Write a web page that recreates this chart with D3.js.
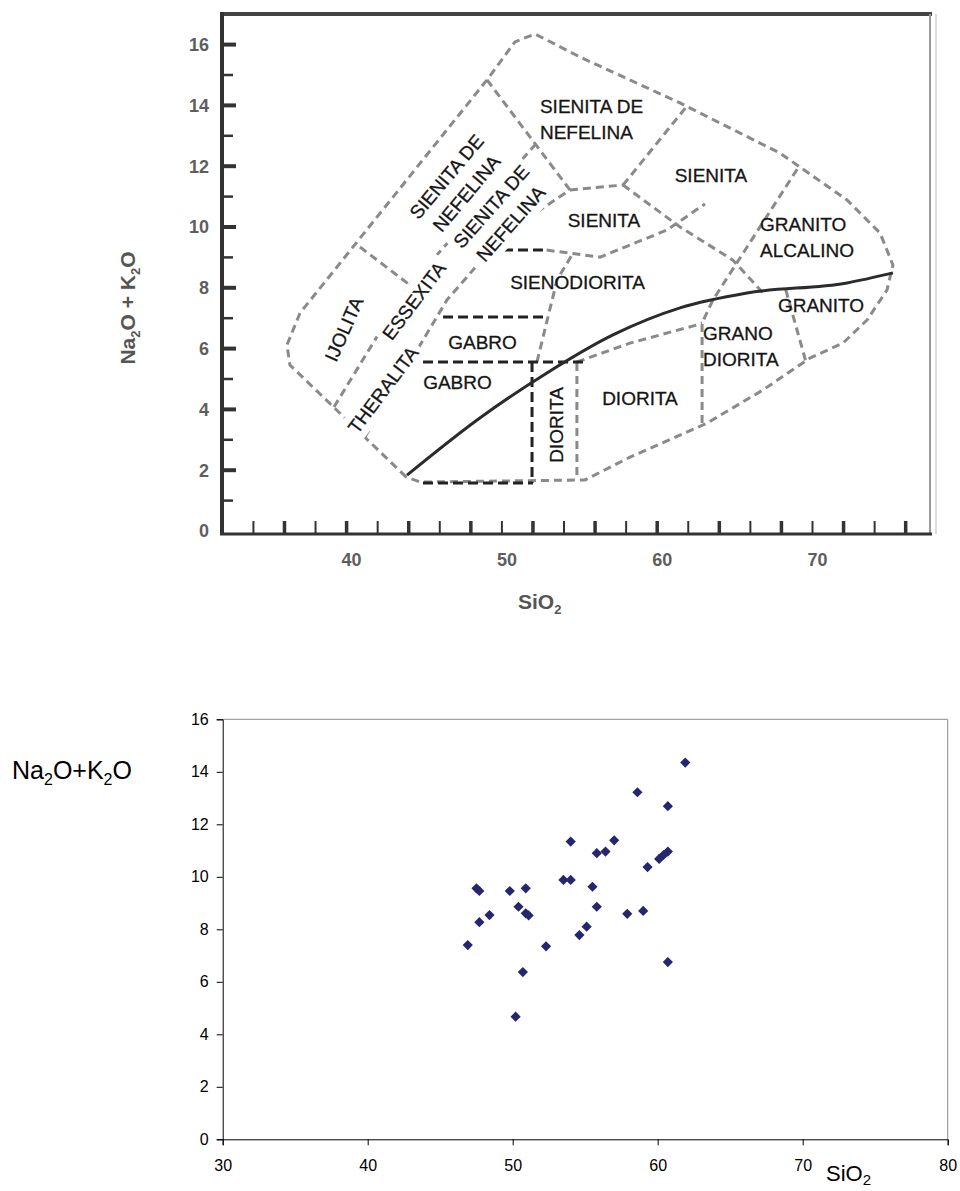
<!DOCTYPE html>
<html>
<head>
<meta charset="utf-8">
<script src="https://cdn.jsdelivr.net/npm/d3@7"></script>
<style>
  body { margin: 0; background: #fff; }
  svg { display: block; }
  text { font-family: "Liberation Sans", Arial, sans-serif; }
</style>
</head>
<body>
<div id="chart"></div>
<script>
const width = 960,
      height = 1191;

// ---- scatter data (SiO2 vs Na2O+K2O) ----
const sio2 = [61.9, 58.6, 60.7, 54.0, 57.0, 55.8, 56.4, 60.1, 60.4, 60.7, 59.3,
              53.5, 54.0, 47.5, 47.7, 49.8, 50.9, 55.5, 50.4, 50.9, 51.1, 48.4,
              47.7, 55.8, 57.9, 59.0, 55.1, 54.6, 46.9, 52.3, 50.7, 60.7, 50.2];
const alkali = [14.35, 13.22, 12.69, 11.34, 11.39, 10.90, 10.96, 10.68, 10.83, 10.96, 10.37,
                9.88, 9.88, 9.56, 9.46, 9.46, 9.56, 9.62, 8.86, 8.61, 8.53, 8.54,
                8.27, 8.86, 8.59, 8.70, 8.10, 7.78, 7.40, 7.35, 6.37, 6.75, 4.67];
const xTicksBottom = [30, 40, 50, 60, 70, 80];
const yTicks = [0, 2, 4, 6, 8, 10, 12, 14, 16];

// ---- TAS diagram (top) field boundaries, [SiO2, Na2O+K2O] ----
const outerLine = [[43.83, 1.78], [36.35, 5.46], [36.16, 6.12], [37.0, 7.17], [49.04, 14.84],
                   [50.84, 16.09], [52.13, 16.35], [55.03, 15.59], [61.47, 14.08], [67.91, 12.43],
                   [72.22, 10.89], [74.35, 9.80], [75.18, 8.75], [74.80, 7.93], [73.51, 6.94],
                   [71.96, 6.18], [69.84, 5.69], [66.81, 4.64], [63.21, 3.55], [58.25, 2.43],
                   [55.35, 1.68], [44.73, 1.61]];
const alkalineCurve = [[43.89, 1.84], [48.58, 3.72], [52.90, 5.20], [57.15, 6.45], [61.47, 7.34],
                       [65.78, 7.83], [72.22, 8.16], [75.18, 8.49]];
const grayLines = [
  [[39.19, 4.08], [41.70, 6.18], [43.44, 7.60], [44.08, 8.09], [52.13, 12.70]],
  [[40.86, 9.34], [44.08, 8.09]],
  [[49.04, 14.84], [54.38, 11.22]],
  [[54.38, 11.22], [57.80, 11.38]],
  [[57.80, 11.38], [61.92, 13.98]],
  [[41.18, 3.09], [44.47, 5.89], [46.46, 7.60], [48.59, 8.85], [50.52, 9.74], [52.45, 10.56], [54.38, 11.22]],
  [[54.83, 5.53], [54.83, 1.68]],
  [[54.83, 5.56], [58.25, 6.18], [62.56, 6.78], [62.89, 6.84]],
  [[62.89, 3.55], [62.89, 6.84], [63.59, 7.60], [69.19, 12.04]],
  [[68.28, 7.93], [69.58, 5.56]],
  [[57.80, 11.38], [61.47, 10.0], [64.88, 8.91], [66.81, 7.83]],
  [[52.88, 9.24], [56.32, 9.01], [60.63, 9.90], [63.08, 10.76]],
  [[52.26, 5.56], [53.55, 8.26], [54.51, 9.08]]
];
const blackLines = [
  [[46.21, 7.04], [52.90, 7.04]],
  [[44.92, 5.56], [55.22, 5.56]],
  [[44.92, 1.58], [52.0, 1.58]],
  [[51.94, 5.56], [51.94, 1.58]],
  [[50.07, 9.24], [52.64, 9.24]]
];
const fieldNames = [
  { t: ["SIENITA DE", "NEFELINA"], x: 52.45, y: 13.55, a: 0, anchor: "start" },
  { t: ["SIENITA"], x: 63.46, y: 11.71, a: 0 },
  { t: ["SIENITA"], x: 56.57, y: 10.23, a: 0 },
  { t: ["SIENODIORITA"], x: 54.87, y: 8.19, a: 0 },
  { t: ["GRANITO", "ALCALINO"], x: 66.62, y: 9.65, a: 0, anchor: "start" },
  { t: ["GRANITO"], x: 70.55, y: 7.43, a: 0 },
  { t: ["GRANO", "DIORITA"], x: 62.95, y: 6.09, a: 0, anchor: "start" },
  { t: ["DIORITA"], x: 58.89, y: 4.37, a: 0 },
  { t: ["DIORITA"], x: 53.51, y: 3.49, a: -90, box: true },
  { t: ["GABRO"], x: 48.75, y: 6.22, a: 0 },
  { t: ["GABRO"], x: 47.14, y: 4.90, a: 0 },
  { t: ["IJOLITA"], x: 39.83, y: 6.64, a: -66, box: true },
  { t: ["THERALITA"], x: 42.35, y: 4.64, a: -53, box: true },
  { t: ["ESSEXITA"], x: 44.34, y: 7.57, a: -53, box: true },
  { t: ["SIENITA DE", "NEFELINA"], x: 47.08, y: 11.38, a: -50, box: true },
  { t: ["SIENITA DE", "NEFELINA"], x: 49.94, y: 10.39, a: -48.5, box: true }
];
const tasXTicks = d3.range(34, 77, 2);
const tasXLabels = [40, 50, 60, 70];
const tasYTicks = d3.range(1, 17, 1);

const svg = d3.select("#chart")
  .append("svg")
    .attr("width", width)
    .attr("height", height);

// =================== top: TAS diagram ===================
const tx = d3.scaleLinear().domain([50, 70]).range([501.9, 812.5]);
const ty = d3.scaleLinear().domain([0, 16]).range([531, 44.6]);

const tas = svg.append("g");
const tline = d3.line().x(d => tx(d[0])).y(d => ty(d[1]));

// frame
tas.append("line").attr("x1", 222).attr("x2", 932).attr("y1", 14).attr("y2", 14)
  .attr("stroke", "#444").attr("stroke-width", 4);
tas.append("line").attr("x1", 930).attr("x2", 930).attr("y1", 14).attr("y2", 534)
  .attr("stroke", "#9a9a9a").attr("stroke-width", 2);
tas.append("line").attr("x1", 936).attr("x2", 936).attr("y1", 14).attr("y2", 534)
  .attr("stroke", "#d0d0d0").attr("stroke-width", 1.5);

// dashed boundaries
tas.append("path")
  .datum(outerLine)
  .attr("d", tline.curve(d3.curveLinearClosed))
  .attr("fill", "none").attr("stroke", "#8a8a8a").attr("stroke-width", 3)
  .attr("stroke-dasharray", "8,5");
tline.curve(d3.curveLinear);

tas.selectAll("path.gray")
  .data(grayLines)
  .enter().append("path")
    .attr("class", "gray")
    .attr("d", tline)
    .attr("fill", "none").attr("stroke", "#8a8a8a").attr("stroke-width", 3)
    .attr("stroke-dasharray", "8,5");

tas.selectAll("path.black")
  .data(blackLines)
  .enter().append("path")
    .attr("class", "black")
    .attr("d", tline)
    .attr("fill", "none").attr("stroke", "#222").attr("stroke-width", 3)
    .attr("stroke-dasharray", "10,5");

tas.append("path")
  .datum(alkalineCurve)
  .attr("d", d3.line().x(d => tx(d[0])).y(d => ty(d[1])).curve(d3.curveMonotoneX))
  .attr("fill", "none").attr("stroke", "#2b2b2b").attr("stroke-width", 3);

// field labels: white boxes underneath, names on top
const boxLayer = tas.append("g");
const textLayer = tas.append("g");
const lh = 26;

fieldNames.forEach(d => {
  const n = d.t.length;
  const tr = `translate(${tx(d.x)},${ty(d.y)}) rotate(${d.a})`;
  const g = textLayer.append("g").attr("transform", tr);
  let w = 0;
  d.t.forEach((s, i) => {
    const t = g.append("text")
      .attr("x", 0)
      .attr("y", (i - (n - 1) / 2) * lh)
      .attr("dy", "0.35em")
      .attr("text-anchor", d.anchor || "middle")
      .attr("font-size", 19)
      .attr("fill", "#151515")
      .attr("stroke", "#151515").attr("stroke-width", 0.3)
      .text(s);
    w = Math.max(w, t.node().getComputedTextLength());
  });
  if (d.box) {
    boxLayer.append("rect")
      .attr("transform", tr)
      .attr("x", -w / 2 - 5).attr("y", -n * lh / 2 - 1)
      .attr("width", w + 10).attr("height", n * lh + 2)
      .attr("fill", "#fff");
  }
});

// axes of the scanned diagram
tas.append("line").attr("x1", 222).attr("x2", 222).attr("y1", 12).attr("y2", 535)
  .attr("stroke", "#333").attr("stroke-width", 4);
tas.append("line").attr("x1", 220).attr("x2", 932).attr("y1", 534).attr("y2", 534)
  .attr("stroke", "#333").attr("stroke-width", 3);

tas.selectAll("line.ytick")
  .data(tasYTicks)
  .enter().append("line")
    .attr("class", "ytick")
    .attr("x1", 222).attr("x2", d => d % 2 === 0 ? 236 : 233)
    .attr("y1", d => ty(d)).attr("y2", d => ty(d))
    .attr("stroke", "#333").attr("stroke-width", d => d % 2 === 0 ? 4 : 2.5);

tas.selectAll("line.xtick")
  .data(tasXTicks)
  .enter().append("line")
    .attr("class", "xtick")
    .attr("x1", d => tx(d)).attr("x2", d => tx(d))
    .attr("y1", 534).attr("y2", 521)
    .attr("stroke", "#333").attr("stroke-width", (d, i) => i % 2 ? 3.5 : 2);

tas.selectAll("text.ylab")
  .data(d3.range(0, 17, 2))
  .enter().append("text")
    .attr("class", "ylab")
    .attr("x", 209).attr("y", d => ty(d))
    .attr("dy", "0.35em")
    .attr("text-anchor", "end")
    .attr("font-size", 18).attr("font-weight", "bold")
    .attr("fill", "#5e5e5e")
    .text(d => d);

tas.selectAll("text.xlab")
  .data(tasXLabels)
  .enter().append("text")
    .attr("class", "xlab")
    .attr("x", d => tx(d) + 5).attr("y", 560)
    .attr("dy", "0.35em")
    .attr("text-anchor", "middle")
    .attr("font-size", 18).attr("font-weight", "bold")
    .attr("fill", "#5e5e5e")
    .text(d => d);

const yT = tas.append("text")
  .attr("transform", "translate(128,308) rotate(-90)")
  .attr("text-anchor", "middle")
  .attr("dy", "0.35em")
  .attr("font-size", 21).attr("font-weight", "bold").attr("fill", "#555");
yT.append("tspan").text("Na");
yT.append("tspan").attr("font-size", 13).attr("dy", 5).text("2");
yT.append("tspan").attr("dy", -5).text("O + K");
yT.append("tspan").attr("font-size", 13).attr("dy", 5).text("2");
yT.append("tspan").attr("dy", -5).text("O");

const xT = tas.append("text")
  .attr("x", 518).attr("y", 602)
  .attr("dy", "0.35em")
  .attr("font-size", 21).attr("font-weight", "bold").attr("fill", "#555");
xT.append("tspan").text("SiO");
xT.append("tspan").attr("font-size", 13).attr("dy", 5).text("2");

// =================== bottom: scatter ===================
const x = d3.scaleLinear().domain([30, 80]).range([222.7, 947.7]);
const y = d3.scaleLinear().domain([0, 16]).range([1139.3, 719.3]);

const bot = svg.append("g");

bot.append("line").attr("x1", 222.7).attr("x2", 947.7).attr("y1", 719.3).attr("y2", 719.3)
  .attr("stroke", "#8c8c8c").attr("stroke-width", 1);
bot.append("line").attr("x1", 947.7).attr("x2", 947.7).attr("y1", 719.3).attr("y2", 1139.3)
  .attr("stroke", "#8c8c8c").attr("stroke-width", 1);

const xAxis = bot.append("g")
  .attr("transform", "translate(0,1139.3)")
  .call(d3.axisBottom(x).tickValues(xTicksBottom).tickSize(6).tickPadding(14));
const yAxis = bot.append("g")
  .attr("transform", "translate(222.7,0)")
  .call(d3.axisLeft(y).tickValues(yTicks).tickSize(6).tickPadding(8));

[xAxis, yAxis].forEach(a => {
  a.select(".domain").attr("stroke", "#000");
  a.selectAll(".tick line").attr("stroke", "#000");
  a.selectAll(".tick text")
    .attr("font-family", "Liberation Sans, Arial, sans-serif")
    .attr("font-size", 16).attr("fill", "#000");
});

bot.selectAll("path.pt")
  .data(sio2.map((s, i) => [s, alkali[i]]))
  .enter().append("path")
    .attr("class", "pt")
    .attr("d", d3.symbol(d3.symbolSquare, 52))
    .attr("transform", d => `translate(${x(d[0])},${y(d[1])}) rotate(45)`)
    .attr("fill", "#262670");

const yl = bot.append("text")
  .attr("x", 12).attr("y", 770)
  .attr("dy", "0.35em")
  .attr("font-size", 25).attr("fill", "#000");
yl.append("tspan").text("Na");
yl.append("tspan").attr("font-size", 16).attr("dy", 6).text("2");
yl.append("tspan").attr("dy", -6).text("O+K");
yl.append("tspan").attr("font-size", 16).attr("dy", 6).text("2");
yl.append("tspan").attr("dy", -6).text("O");

const xl = bot.append("text")
  .attr("x", 826).attr("y", 1181)
  .attr("font-size", 22).attr("fill", "#000");
xl.append("tspan").text("SiO");
xl.append("tspan").attr("font-size", 15).attr("dy", 4).text("2");
</script>
</body>
</html>
